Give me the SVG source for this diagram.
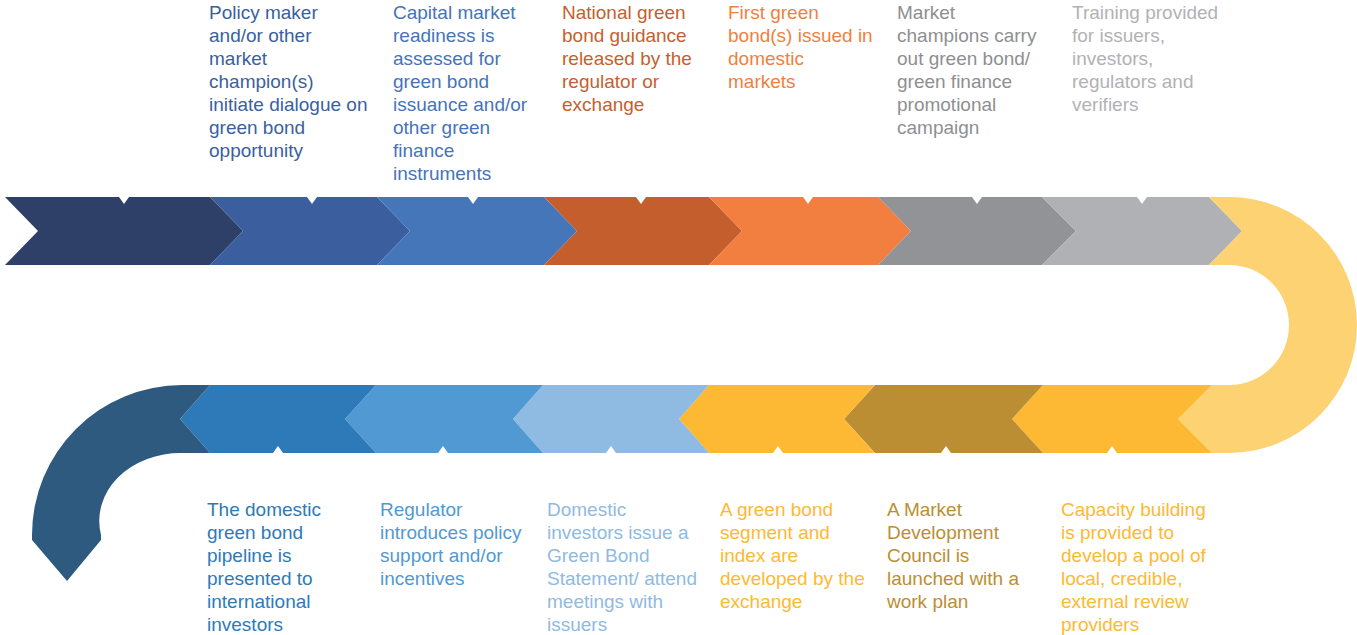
<svg xmlns="http://www.w3.org/2000/svg" width="1357" height="635" viewBox="0 0 1357 635">
<style>
text{font-family:"Liberation Sans",Arial,sans-serif;font-size:19px}
.tick{fill:#ffffff}
</style>
<rect width="1357" height="635" fill="#ffffff"/>
<g id="connectors"></g>
<!-- top row -->
<g id="n1">
<polygon points="5,197 210,197 243,231 210,265 5,265 38,231" fill="#2E4068"/>
<polygon class="tick" points="119,197 129,197 124,204"/>
<text fill="#3A5FA0"><tspan x="209" y="19">Policy maker</tspan><tspan x="209" y="42">and/or other</tspan><tspan x="209" y="65">market</tspan><tspan x="209" y="88">champion(s)</tspan><tspan x="209" y="111">initiate dialogue on</tspan><tspan x="209" y="134">green bond</tspan><tspan x="209" y="157">opportunity</tspan></text>
</g>
<g id="n2">
<polygon points="210,197 377,197 410,231 377,265 210,265 243,231" fill="#3B5E9E"/>
<polygon class="tick" points="307,197 317,197 312,204"/>
<text fill="#4673BA"><tspan x="393" y="19">Capital market</tspan><tspan x="393" y="42">readiness is</tspan><tspan x="393" y="65">assessed for</tspan><tspan x="393" y="88">green bond</tspan><tspan x="393" y="111">issuance and/or</tspan><tspan x="393" y="134">other green</tspan><tspan x="393" y="157">finance</tspan><tspan x="393" y="180">instruments</tspan></text>
</g>
<g id="n3">
<polygon points="377,197 544,197 577,231 544,265 377,265 410,231" fill="#4676BA"/>
<polygon class="tick" points="468,197 478,197 473,204"/>
</g>
<g id="n4">
<polygon points="544,197 709,197 742,231 709,265 544,265 577,231" fill="#C45F2D"/>
<polygon class="tick" points="636,197 646,197 641,204"/>
<text fill="#C55F2E"><tspan x="562" y="19">National green</tspan><tspan x="562" y="42">bond guidance</tspan><tspan x="562" y="65">released by the</tspan><tspan x="562" y="88">regulator or</tspan><tspan x="562" y="111">exchange</tspan></text>
</g>
<g id="n5">
<polygon points="709,197 878,197 911,231 878,265 709,265 742,231" fill="#F27F40"/>
<polygon class="tick" points="803,197 813,197 808,204"/>
<text fill="#F17F3E"><tspan x="728" y="19">First green</tspan><tspan x="728" y="42">bond(s) issued in</tspan><tspan x="728" y="65">domestic</tspan><tspan x="728" y="88">markets</tspan></text>
</g>
<g id="n6">
<polygon points="878,197 1042,197 1076,231 1042,265 878,265 911,231" fill="#929396"/>
<polygon class="tick" points="972,197 982,197 977,204"/>
<text fill="#8E8F92"><tspan x="897" y="19">Market</tspan><tspan x="897" y="42">champions carry</tspan><tspan x="897" y="65">out green bond/</tspan><tspan x="897" y="88">green finance</tspan><tspan x="897" y="111">promotional</tspan><tspan x="897" y="134">campaign</tspan></text>
</g>
<g id="n7">
<polygon points="1042,197 1209,197 1242,231 1209,265 1042,265 1076,231" fill="#B0B1B4"/>
<polygon class="tick" points="1137,197 1147,197 1142,204"/>
<text fill="#B1B2B5"><tspan x="1072" y="19">Training provided</tspan><tspan x="1072" y="42">for issuers,</tspan><tspan x="1072" y="65">investors,</tspan><tspan x="1072" y="88">regulators and</tspan><tspan x="1072" y="111">verifiers</tspan></text>
</g>
<!-- U turn -->
<g id="n8">
<path d="M1209,197 L1229,197 A128,128 0 0 1 1229,453 L1212,453 L1178,419 L1212,385 L1229,385 A60,60 0 0 0 1229,265 L1209,265 L1242,231 Z" fill="#FDD272"/>
</g>
<!-- bottom row -->
<g id="n9">
<polygon points="1043,385 1212,385 1178,419 1212,453 1043,453 1012,419" fill="#FDB933"/>
<polygon class="tick" points="1107,453 1117,453 1112,446"/>
<text fill="#FDB933"><tspan x="1061" y="516">Capacity building</tspan><tspan x="1061" y="539">is provided to</tspan><tspan x="1061" y="562">develop a pool of</tspan><tspan x="1061" y="585">local, credible,</tspan><tspan x="1061" y="608">external review</tspan><tspan x="1061" y="631">providers</tspan></text>
</g>
<g id="n10">
<polygon points="875,385 1043,385 1012,419 1043,453 875,453 844,419" fill="#BC8E33"/>
<polygon class="tick" points="941,453 951,453 946,446"/>
<text fill="#BC8E33"><tspan x="887" y="516">A Market</tspan><tspan x="887" y="539">Development</tspan><tspan x="887" y="562">Council is</tspan><tspan x="887" y="585">launched with a</tspan><tspan x="887" y="608">work plan</tspan></text>
</g>
<g id="n11">
<polygon points="709,385 875,385 844,419 875,453 709,453 679,419" fill="#FDB933"/>
<polygon class="tick" points="773,453 783,453 778,446"/>
<text fill="#FDB933"><tspan x="720" y="516">A green bond</tspan><tspan x="720" y="539">segment and</tspan><tspan x="720" y="562">index are</tspan><tspan x="720" y="585">developed by the</tspan><tspan x="720" y="608">exchange</tspan></text>
</g>
<g id="n12">
<polygon points="543,385 709,385 679,419 709,453 543,453 513,419" fill="#8FBAE1"/>
<polygon class="tick" points="606,453 616,453 611,446"/>
<text fill="#8FBAE1"><tspan x="547" y="516">Domestic</tspan><tspan x="547" y="539">investors issue a</tspan><tspan x="547" y="562">Green Bond</tspan><tspan x="547" y="585">Statement/ attend</tspan><tspan x="547" y="608">meetings with</tspan><tspan x="547" y="631">issuers</tspan></text>
</g>
<g id="n13">
<polygon points="376,385 543,385 513,419 543,453 376,453 345,419" fill="#5199D3"/>
<polygon class="tick" points="438,453 448,453 443,446"/>
<text fill="#5199D3"><tspan x="380" y="516">Regulator</tspan><tspan x="380" y="539">introduces policy</tspan><tspan x="380" y="562">support and/or</tspan><tspan x="380" y="585">incentives</tspan></text>
</g>
<g id="n14">
<polygon points="210,385 376,385 345,419 376,453 210,453 180,419" fill="#2E7AB8"/>
<polygon class="tick" points="273,453 283,453 278,446"/>
<text fill="#2E7AB8"><tspan x="207" y="516">The domestic</tspan><tspan x="207" y="539">green bond</tspan><tspan x="207" y="562">pipeline is</tspan><tspan x="207" y="585">presented to</tspan><tspan x="207" y="608">international</tspan><tspan x="207" y="631">investors</tspan></text>
</g>
<g id="n15">
<path d="M210,385 L182,385 A150,150 0 0 0 32,535 L32,540 L67,581 L101,540 L101,535 A81,68 0 0 1 182,453 L210,453 L180,419 Z" fill="#2E5A80"/>
</g>
</svg>
